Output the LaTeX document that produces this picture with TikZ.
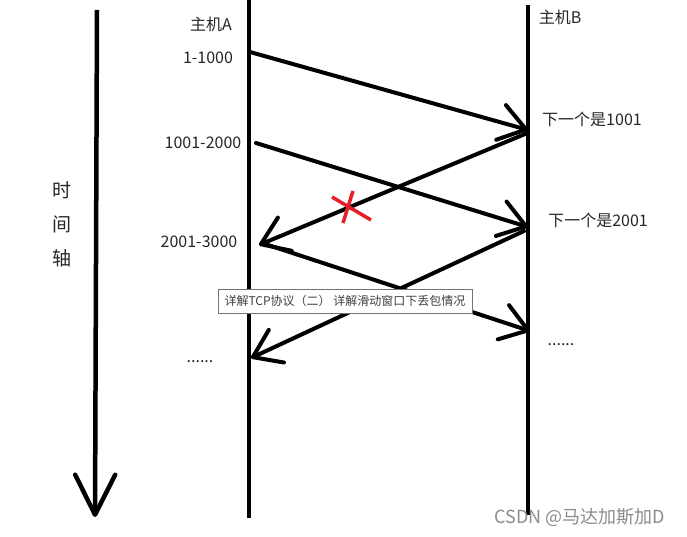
\documentclass[tikz,border=0pt]{standalone}
\usepackage{fontspec}
\setmainfont{Noto Sans CJK SC}
\usetikzlibrary{arrows.meta}
\begin{document}
\begin{tikzpicture}[x=1pt,y=-1pt,
  host/.style={line width=4.5pt},
  msg/.style={line width=4pt,line cap=round,-{Straight Barb[length=26pt,width=36pt,round]}},
  axis/.style={line width=4.5pt,-{Straight Barb[length=40pt,width=40pt,round]}},
  lbl/.style={inner sep=0pt,text=black!85,font=\fontsize{16}{16}\selectfont},
  lost/.style={line width=3.5pt,draw={rgb,255:red,230;green,30;blue,40}}]
\fill[white] (0,0) rectangle (687,537);
\useasboundingbox (0,0) rectangle (687,537);
% time axis and the two hosts
\coordinate (T0) at (97,10); \coordinate (T1) at (95,517);
\coordinate (A0) at (249,0); \coordinate (A1) at (249,518);
\coordinate (B0) at (528,5); \coordinate (B1) at (528,515);
\draw[axis] (T0) -- (T1);
\draw[host] (A0) -- (A1);
\draw[host] (B0) -- (B1);
\node[lbl,font=\fontsize{19}{34}\selectfont,align=center] (axislbl) at (62,224) {时\\间\\轴};
\node[lbl] (hostA) at (211,24) {主机A};
\node[lbl] (hostB) at (560,17) {主机B};
% segments sent by A
\coordinate (s1) at (250,52); \coordinate (r1) at (528,130);
\coordinate (s2) at (256,143); \coordinate (r2) at (528,227);
\coordinate (s3) at (262,243); \coordinate (r3) at (530,331);
\node[lbl] (seg1) at (208,58) {1-1000};
\node[lbl] (seg2) at (203,143) {1001-2000};
\node[lbl] (seg3) at (199,242) {2001-3000};
\draw[msg] (s1) -- (r1);
\draw[msg] (s2) -- (r2);
\draw[msg] (s3) -- (r3);
% acks sent by B
\coordinate (k1) at (525,134); \coordinate (k1a) at (259,245);
\coordinate (k2) at (524,231); \coordinate (k2a) at (251,358);
\node[lbl] (ack1) at (592,119) {下一个是1001};
\node[lbl] (ack2) at (598,220) {下一个是2001};
\draw[msg] (k1) -- (k1a);
\draw[msg] (k2) -- (k2a);
\draw[lost] (332,197) -- (371,220) (353,191) -- (343,223);
\node[lbl] (moreA) at (200,362) {......};
\node[lbl] (moreB) at (561,345) {......};
\node[draw=black!55,fill=white,line width=0.8pt,minimum width=254pt,minimum height=24pt,
  text=black!75,font=\fontsize{12}{12}\selectfont] (cap) at (345,301) {详解TCP协议（二） 详解滑动窗口下丢包情况};
\node[text=black!45,font=\fontsize{18}{18}\selectfont] (mark) at (580,518) {CSDN @马达加斯加D};
\end{tikzpicture}
\end{document}
